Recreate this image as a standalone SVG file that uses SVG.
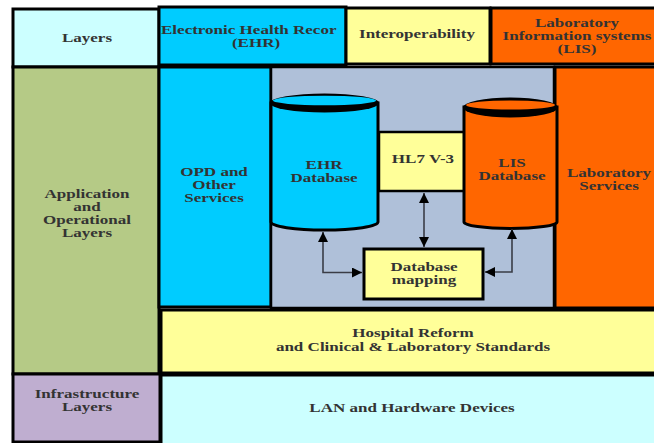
<svg xmlns="http://www.w3.org/2000/svg" width="654" height="443" viewBox="0 0 654 443">
  <style>
    .box { stroke: #000; stroke-width: 3; }
    .cyan { fill: #CCFFFF; }
    .blue { fill: #00CCFF; }
    .yellow { fill: #FFFF99; }
    .orange { fill: #FF6600; }
    .olive { fill: #B5CA86; }
    .steel { fill: #AFC0D9; }
    .lilac { fill: #BFAED0; }
    .t { font-family: "Liberation Serif", "Times New Roman", serif; font-weight: bold; font-size: 12px; fill: #333333; text-anchor: middle; }
    .ts { text-anchor: start; }
    .link { fill: none; stroke: #3a3c46; stroke-width: 1.6; }
  </style>
  <defs>
    <marker id="head" viewBox="0 0 10 10" refX="10" refY="5" markerWidth="10" markerHeight="10" markerUnits="userSpaceOnUse" orient="auto-start-reverse">
      <path d="M0,0 L10,5 L0,10 Z" fill="#000"/>
    </marker>
    <clipPath id="ehrClip"><rect x="160" y="8" width="184" height="56"/></clipPath>
  </defs>

  <rect width="654" height="443" fill="#fff"/>

  <!-- top row -->
  <g id="layers-header">
    <rect class="box cyan" x="13" y="9" width="146" height="58"/>
    <text class="t" transform="translate(87,42) scale(1.42,1)">Layers</text>
  </g>
  <g id="ehr-header">
    <rect class="box blue" x="159" y="7" width="187" height="58"/>
    <g clip-path="url(#ehrClip)">
      <text class="t ts" transform="translate(161,34) scale(1.42,1)">Electronic Health Recor</text>
    </g>
    <text class="t" transform="translate(256,47) scale(1.42,1)">(EHR)</text>
  </g>
  <g id="interop-header">
    <rect class="box yellow" x="346" y="8" width="144" height="56"/>
    <text class="t" transform="translate(417,38) scale(1.42,1)">Interoperability</text>
  </g>
  <g id="lis-header">
    <rect class="box orange" x="491" y="8" width="170" height="56"/>
    <text class="t" transform="translate(577,27) scale(1.42,1)"><tspan x="0">Laboratory</tspan><tspan x="0" dy="13">Information systems</tspan><tspan x="0" dy="13">(LIS)</tspan></text>
  </g>

  <!-- application layer -->
  <g id="app-layers">
    <rect class="box olive" x="13" y="67" width="146" height="307"/>
    <text class="t" transform="translate(87,198) scale(1.42,1)"><tspan x="0">Application</tspan><tspan x="0" dy="13">and</tspan><tspan x="0" dy="13">Operational</tspan><tspan x="0" dy="13">Layers</tspan></text>
  </g>
  <g id="opd">
    <rect class="box blue" x="159" y="67" width="112" height="240"/>
    <text class="t" transform="translate(214,176) scale(1.42,1)"><tspan x="0">OPD and</tspan><tspan x="0" dy="13">Other</tspan><tspan x="0" dy="13">Services</tspan></text>
  </g>
  <g id="integration-panel">
    <rect x="271" y="67" width="283" height="241" class="steel" stroke="#000" stroke-width="2.5"/>
  </g>
  <g id="lab-services">
    <rect class="box orange" x="555" y="67" width="110" height="241"/>
    <text class="t" transform="translate(609,177) scale(1.42,1)"><tspan x="0">Laboratory</tspan><tspan x="0" dy="13">Services</tspan></text>
  </g>

  <g id="hl7">
    <rect class="yellow" x="379" y="132" width="86" height="59" stroke="#000" stroke-width="2.5"/>
    <text class="t" transform="translate(423,163) scale(1.42,1)">HL7 V-3</text>
  </g>

  <g id="ehr-db">
    <path class="box blue" d="M271,103 V222 A53.5,8 0 0 0 378,222 V103 Z"/>
    <ellipse cx="324.5" cy="103" rx="54.5" ry="9.5" fill="#000"/>
    <ellipse cx="324.5" cy="100.5" rx="51.5" ry="4.8" class="blue"/>
    <text class="t" transform="translate(324,169) scale(1.42,1)"><tspan x="0">EHR</tspan><tspan x="0" dy="13">Database</tspan></text>
  </g>

  <g id="lis-db">
    <path class="box orange" d="M464,107 V222 A46.5,6.5 0 0 0 557,222 V107 Z"/>
    <ellipse cx="510.5" cy="107.5" rx="47.5" ry="10" fill="#000"/>
    <ellipse cx="510.5" cy="105" rx="44.5" ry="4.5" class="orange"/>
    <text class="t" transform="translate(512,167) scale(1.42,1)"><tspan x="0">LIS</tspan><tspan x="0" dy="13">Database</tspan></text>
  </g>

  <g id="db-mapping">
    <rect class="box yellow" x="364" y="249" width="119" height="50"/>
    <text class="t" transform="translate(424,271) scale(1.42,1)"><tspan x="0">Database</tspan><tspan x="0" dy="13">mapping</tspan></text>
  </g>

  <g id="connectors">
    <path class="link" d="M424,193 V247" marker-start="url(#head)" marker-end="url(#head)"/>
    <path class="link" d="M323,232 V272.5 H362" marker-start="url(#head)" marker-end="url(#head)"/>
    <path class="link" d="M512,229 V272 H485" marker-start="url(#head)" marker-end="url(#head)"/>
  </g>

  <!-- standards and infrastructure -->
  <g id="standards">
    <rect class="box yellow" x="161" y="310" width="500" height="63"/>
    <text class="t" transform="translate(413,337) scale(1.42,1)"><tspan x="0">Hospital Reform</tspan><tspan x="0" dy="14">and Clinical &amp; Laboratory Standards</tspan></text>
  </g>
  <g id="infra-layers">
    <rect class="box lilac" x="13" y="374" width="147" height="68"/>
    <text class="t" transform="translate(87,398) scale(1.42,1)"><tspan x="0">Infrastructure</tspan><tspan x="0" dy="13">Layers</tspan></text>
  </g>
  <g id="lan">
    <rect class="box cyan" x="161" y="375" width="500" height="72"/>
    <text class="t" transform="translate(412,412) scale(1.42,1)">LAN and Hardware Devices</text>
  </g>
</svg>
